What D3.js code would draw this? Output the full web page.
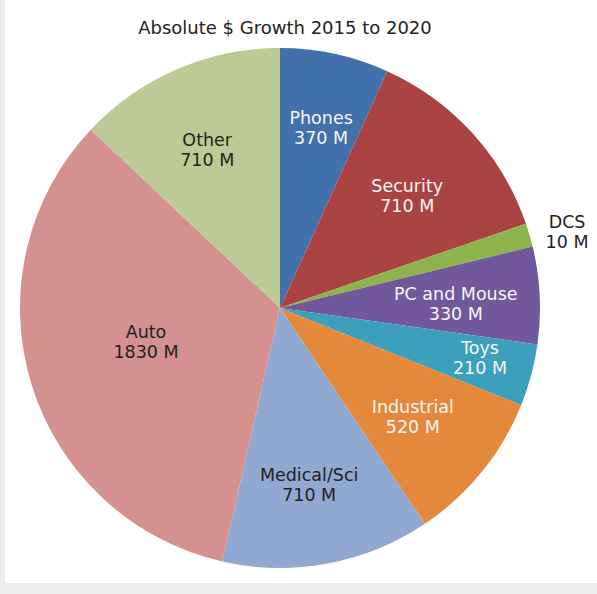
<!DOCTYPE html>
<html>
<head>
<meta charset="utf-8">
<script src="https://cdn.jsdelivr.net/npm/d3@7"></script>
<style>
  html, body { margin: 0; padding: 0; background: #ffffff; }
  svg { display: block; }
</style>
</head>
<body>
<script>
const categories = ["Phones", "Security", "DCS", "PC and Mouse", "Toys",
                    "Industrial", "Medical/Sci", "Auto", "Other"];
// growth as printed on the labels ($M)
const growth = [370, 710, 10, 330, 210, 520, 710, 1830, 710];
// slice sizes as drawn (the DCS wedge is drawn wider than its 10 M label)
const sliceSize = [370, 710, 80, 330, 210, 520, 710, 1830, 710];
const colors = ["#4270aa", "#a94442", "#8db34c", "#71589b", "#3ca0bc",
                "#e4893c", "#91a8d1", "#d49190", "#bccb95"];

const width = 597;
const height = 594;
const cx = 280, cy = 308, radius = 260;

const svg = d3.select("body")
  .append("svg")
  .attr("width", width)
  .attr("height", height);

// frame: grey strip on the left and under the chart
svg.append("rect").attr("width", width).attr("height", height).attr("fill", "#ececec");
svg.append("rect").attr("x", 5).attr("y", 0)
  .attr("width", width - 5).attr("height", 583).attr("fill", "#ffffff");

svg.append("text")
  .attr("x", 285)
  .attr("y", 27)
  .attr("text-anchor", "middle")
  .attr("dominant-baseline", "central")
  .attr("font-family", "DejaVu Sans")
  .attr("font-size", 18)
  .attr("fill", "#222")
  .text("Absolute $ Growth 2015 to 2020");

const slices = categories.map((c, i) => ({
  name: c, size: sliceSize[i], growth: growth[i], color: colors[i]
}));

const pie = d3.pie().sort(null).value(d => d.size);
const arcs = pie(slices);

const arc = d3.arc().innerRadius(0).outerRadius(radius);

const g = svg.append("g").attr("transform", `translate(${cx},${cy})`);

g.selectAll("path")
  .data(arcs)
  .enter()
  .append("path")
  .attr("d", arc)
  .attr("fill", d => d.data.color);

// label distance from centre, like Excel's best fit, plus small nudges
const labelR = { "Auto": 138, "Toys": 206, "DCS": 297 };
const nudge = {
  "Phones": [4, -8], "Security": [-3, 6], "DCS": [2, 7], "PC and Mouse": [0, 5],
  "Toys": [1, -3], "Industrial": [-4, -2], "Medical/Sci": [-3, 4],
  "Auto": [-2, -6], "Other": [-3, 4]
};
const darkText = ["DCS", "Auto", "Medical/Sci", "Other"];

const labels = g.selectAll("text")
  .data(arcs)
  .enter()
  .append("text")
  .attr("transform", d => {
    const r = labelR[d.data.name] || 176;
    const a = (d.startAngle + d.endAngle) / 2;
    const [dx, dy] = nudge[d.data.name] || [0, 0];
    return `translate(${Math.sin(a) * r + dx},${-Math.cos(a) * r + dy})`;
  })
  .attr("text-anchor", "middle")
  .attr("font-family", "DejaVu Sans")
  .attr("font-size", 17.5)
  .attr("fill", d => darkText.includes(d.data.name) ? "#222" : "#f6f6f6");

labels.append("tspan")
  .attr("x", 0)
  .attr("y", -10)
  .attr("dominant-baseline", "central")
  .text(d => d.data.name);

labels.append("tspan")
  .attr("x", 0)
  .attr("y", 10)
  .attr("dominant-baseline", "central")
  .text(d => d.data.growth + " M");
</script>
</body>
</html>
